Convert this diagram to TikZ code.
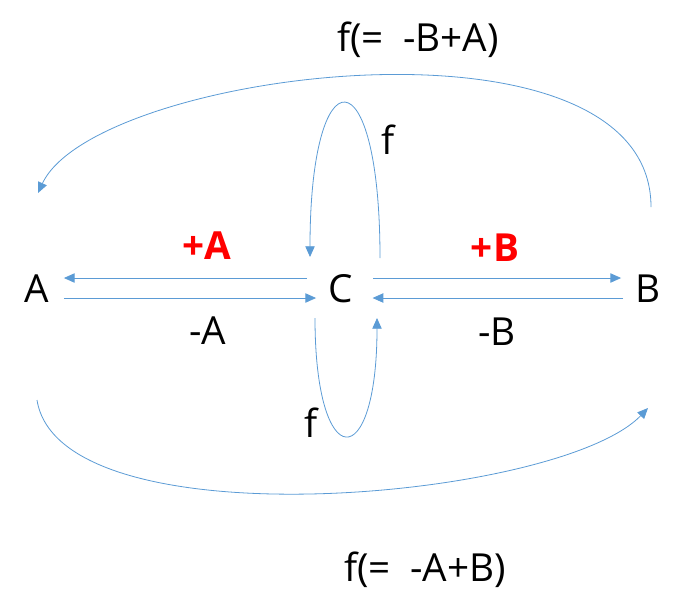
\documentclass[tikz,border=0pt]{standalone}
\usepackage{fontspec}
\setmainfont{Open Sans}
\usetikzlibrary{arrows.meta}
\definecolor{lineblue}{HTML}{5B9BD5}

\begin{document}
\begin{tikzpicture}[x=0.75pt,y=-0.75pt,
  arr/.style={lineblue,line width=0.6pt,-{Triangle[length=8pt,width=7pt]}},
  txt/.style={inner sep=0pt,font=\fontsize{29}{34}\selectfont},
  vtx/.style={txt,minimum width=40pt},
  sgn/.style={txt,font=\fontsize{29}{34}\selectfont\bfseries,text=red}]
\useasboundingbox (0,0) rectangle (684,611);
% the three states
\node[vtx] (A) at (37,289) {A};
\node[vtx,minimum width=45pt] (C) at (341,289) {C};
\node[vtx] (B) at (648,289) {B};
% labels
\node[sgn] (pA) at (207,246) {+A};
\node[sgn] (pB) at (495,248) {+B};
\node[txt] (mA) at (208,331) {-A};
\node[txt] (mB) at (497,332) {-B};
\node[txt] (fC1) at (388,140) {f};
\node[txt] (fC2) at (311,423) {f};
\node[txt] (fBA) at (418,40) {f(=\hspace{0.5em}-B+A)};
\node[txt] (fAB) at (425,570) {f(=\hspace{0.5em}-A+B)};
% straight arrows
\draw[arr] ([yshift=8.25pt,xshift=-3pt]C.west) -- ([yshift=8.25pt]A.east);
\draw[arr] ([yshift=-6.75pt]A.east) -- ([yshift=-6.75pt,xshift=4pt]C.west);
\draw[arr] ([yshift=8.25pt,xshift=1.5pt]C.east) -- ([yshift=8.25pt]B.west);
\draw[arr] ([yshift=-6.75pt,xshift=1.5pt]B.west) -- ([yshift=-6.75pt,xshift=1pt]C.east);
% loops on C
\draw[arr] ([shift={(39,-31)}]C.center) .. controls +(0,-206) and +(0,-205) .. ([shift={(-31,-32)}]C.center);
\draw[arr] ([shift={(-26,29)}]C.center) .. controls +(0,157) and +(0,157) .. ([shift={(36,29)}]C.center);
% big arcs
\draw[arr] ([shift={(3,-82)}]B.center) .. controls +(0,-207) and +(57,-123) .. ([shift={(1,-96)}]A.center);
\draw[arr] ([shift={(0,111)}]A.center) .. controls +(23,145) and +(-88,92) .. ([shift={(0,119)}]B.center);
\end{tikzpicture}
\end{document}
